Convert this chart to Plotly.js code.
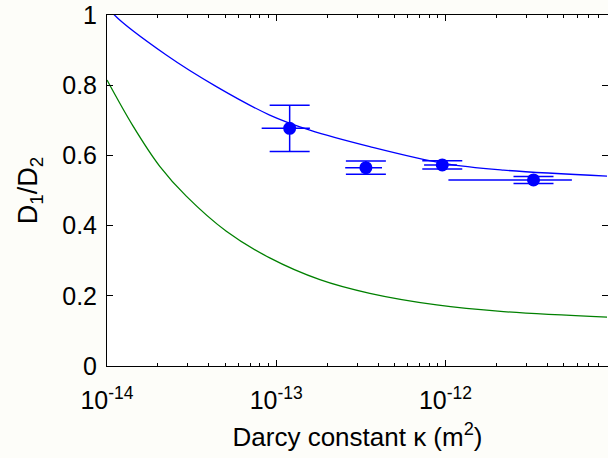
<!DOCTYPE html>
<html>
<head>
<meta charset="utf-8">
<script src="https://cdn.plot.ly/plotly-3.0.1.min.js"></script>
<style>html,body{margin:0;padding:0;background:#fdfdf9;}</style>
</head>
<body>
<div id="chart" style="width:608px;height:458px;"></div>
<script>
// Model curve 1 (blue)
const blueX = [1.0e-14, 1.107e-14, 2.24e-14, 4.43e-14, 9.15e-14, 1.58e-13, 3.57e-13, 9.7e-13, 2.2e-12, 9.0e-12];
const blueY = [1.03, 1.0, 0.886, 0.796, 0.715, 0.672, 0.625, 0.5775, 0.558, 0.541];
// Model curve 2 (green)
const greenX = [1.0e-14, 1.42e-14, 2.05e-14, 2.94e-14, 5.07e-14, 9.15e-14, 1.81e-13, 3.57e-13, 8.87e-13, 2.2e-12, 9.0e-12];
const greenY = [0.815, 0.685, 0.569, 0.484, 0.384, 0.308, 0.246, 0.207, 0.174, 0.155, 0.139];
// Measurements
const measX = [1.2e-13, 3.385e-13, 9.57e-13, 3.31e-12];
const measY = [0.677, 0.565, 0.573, 0.530];
const measYErr = [0.066, 0.019, 0.012, 0.010];
const measXErr = [0.38e-13, 0.83e-13, 0.21e-12, 2.27e-12];
// Tick labels
const xTickVals = [1e-14, 1e-13, 1e-12];
const xTickText = ['10<sup>-14</sup>', '10<sup>-13</sup>', '10<sup>-12</sup>'];
const yTickVals = [0, 0.2, 0.4, 0.6, 0.8, 1];

const traces = [
  {x: greenX, y: greenY, mode: 'lines', line: {color: '#008000', width: 1.3, shape: 'spline', smoothing: 1}, hoverinfo: 'skip'},
  {x: blueX, y: blueY, mode: 'lines', line: {color: '#0000ff', width: 1.3, shape: 'spline', smoothing: 1}, hoverinfo: 'skip'},
  {x: measX, y: measY, mode: 'markers',
   marker: {color: '#0000ff', size: 13},
   error_y: {type: 'data', array: measYErr, visible: true, color: '#0000ff', thickness: 1.5, width: 20},
   error_x: {type: 'data', array: measXErr, visible: true, color: '#0000ff', thickness: 1.5, width: 0}}
];

const FAM = 'Liberation Sans, Arial, sans-serif';

const layout = {
  width: 608, height: 458,
  margin: {l: 107, r: 0, t: 15, b: 92},
  paper_bgcolor: '#fdfdf9',
  plot_bgcolor: '#ffffff',
  showlegend: false,
  font: {family: FAM, size: 25, color: '#000'},
  xaxis: {
    type: 'log', range: [-14, -11.04],
    tickvals: xTickVals, ticktext: xTickText,
    ticks: 'inside', ticklen: 6, tickcolor: '#000', tickwidth: 1,
    ticklabelstandoff: 12,
    minor: {dtick: 'D1', ticks: 'inside', ticklen: 3, tickcolor: '#000', showgrid: false},
    showline: true, linecolor: '#000', linewidth: 1, mirror: 'allticks',
    showgrid: false, zeroline: false,
    tickfont: {family: FAM, size: 25, color: '#000'},
    title: {text: 'Darcy constant κ (m<sup>2</sup>)', font: {family: FAM, size: 26, color: '#000'}, standoff: 14}
  },
  yaxis: {
    range: [0, 1], tickvals: yTickVals,
    ticks: 'inside', ticklen: 6, tickcolor: '#000',
    ticklabelstandoff: 4,
    showline: true, linecolor: '#000', linewidth: 1, mirror: 'ticks',
    showgrid: false, zeroline: false,
    tickfont: {family: FAM, size: 25, color: '#000'},
    title: {text: 'D<sub>1</sub>/D<sub>2</sub>', font: {family: FAM, size: 27, color: '#000'}, standoff: 16}
  }
};

Plotly.newPlot('chart', traces, layout, {displayModeBar: false, staticPlot: true});
</script>
</body>
</html>
